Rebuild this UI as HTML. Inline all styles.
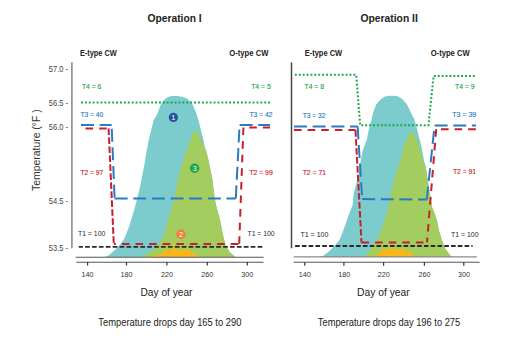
<!DOCTYPE html>
<html><head><meta charset="utf-8"><style>
html,body{margin:0;padding:0;background:#fff;width:531px;height:343px;overflow:hidden}
svg{display:block}
text{font-family:"Liberation Sans",sans-serif}
.s{stroke-width:0.25px}
</style></head><body>
<svg width="531" height="343" viewBox="0 0 531 343">
<polygon fill="#7ccbcd" points="104,257 106.5,256.6 108.5,255.4 116,249 120.5,244 124.5,238.3 128.8,227.6 132,217 135.2,206.3 138,195 140.5,185 142.3,175 144.5,164 146.5,152 148.6,140.4 150.8,131.7 153.7,120 157.2,114.2 160.4,105.5 162.5,102 165,99 168,97 172,95.9 177,95.9 182,96.8 187,98.5 190.8,102 193.1,105.5 196.6,114.2 199.2,123 201.3,131.7 203.6,140.5 205,148 206.9,153.7 209,162.5 212.5,180 214.6,197.5 216,205 219.5,217.5 223,235 225.6,245.5 230,252.5 234.3,256 235,257"/>
<polygon fill="#a3cd5f" points="141.8,257 153.1,250 159.9,242.5 164,235 168.7,217.5 174,200 177.5,180 182.4,162.5 186.6,150 189.6,142.5 192.5,134 195.4,129.4 198.5,134 202.4,142.5 206.2,151 209,162.5 212.5,180 214.6,197.5 216,205 219.5,217.5 223,235 225.6,245.5 230,252.5 234.3,256 235,257"/>
<polygon fill="#fbb617" points="148,257 156,255.5 161.6,253.8 165,251.5 166.9,246.5 168.5,251 172,250.5 173.7,240.5 175.5,250 179,250 180.6,247.5 182.5,250.5 186,250 187.4,246 189,251 193,253 198.5,256 201,257"/>
<line x1="71.9" y1="62.3" x2="71.9" y2="248.3" stroke="#8a8a8a" stroke-width="1.6"/>
<line x1="75.7" y1="257.3" x2="263.6" y2="257.3" stroke="#555" stroke-width="1.1"/>
<line x1="76.5" y1="262.3" x2="263.6" y2="262.3" stroke="#555" stroke-width="1.1"/>
<g stroke="#333" stroke-width="1.2"><line x1="87.6" y1="262" x2="87.6" y2="265.5"/><line x1="126.5" y1="262" x2="126.5" y2="265.5"/><line x1="166.9" y1="262" x2="166.9" y2="265.5"/><line x1="207.3" y1="262" x2="207.3" y2="265.5"/><line x1="247.3" y1="262" x2="247.3" y2="265.5"/></g>
<line x1="81" y1="102.6" x2="270" y2="102.6" stroke="#17a84a" stroke-width="2" stroke-dasharray="1.9,2"/>
<polyline fill="none" stroke="#2a7bc4" stroke-width="2" stroke-dasharray="13,5.65" stroke-dashoffset="0" points="81,125.1 111.6,125.1"/>
<polyline fill="none" stroke="#2a7bc4" stroke-width="2" stroke-dasharray="13,5.65" stroke-dashoffset="15.05" points="111.6,125.1 114.6,198.4"/>
<polyline fill="none" stroke="#2a7bc4" stroke-width="2" stroke-dasharray="13,5.65" stroke-dashoffset="0" points="114.6,198.4 235.8,198.4"/>
<polyline fill="none" stroke="#2a7bc4" stroke-width="2" stroke-dasharray="13,5.65" stroke-dashoffset="0" points="235.8,198.4 239.6,124.9"/>
<polyline fill="none" stroke="#2a7bc4" stroke-width="2" stroke-dasharray="13,5.65" stroke-dashoffset="0" points="239.6,124.9 270,124.9"/>
<polyline fill="none" stroke="#c81f2d" stroke-width="2" stroke-dasharray="7.6,6" stroke-dashoffset="0" points="85.5,128.4 108.6,128.4"/>
<polyline fill="none" stroke="#c81f2d" stroke-width="2" stroke-dasharray="6.6,2.4" stroke-dashoffset="0" points="108.6,128.4 113.8,244.1"/>
<polyline fill="none" stroke="#c81f2d" stroke-width="2" stroke-dasharray="7.6,6" stroke-dashoffset="5.5" points="113.8,244.1 239.2,244.1"/>
<polyline fill="none" stroke="#c81f2d" stroke-width="2" stroke-dasharray="7.6,6" stroke-dashoffset="0" points="243.4,127.5 239.2,244.1"/>
<polyline fill="none" stroke="#c81f2d" stroke-width="2" stroke-dasharray="7.6,6" stroke-dashoffset="7.8" points="243.4,127.5 270,127.5"/>
<line x1="78.8" y1="246.9" x2="263.6" y2="246.9" stroke="#2a2a2a" stroke-width="1.9" stroke-dasharray="4.7,2.2" stroke-dashoffset="0.6"/>
<circle cx="173.4" cy="117.4" r="4.6" fill="#2b4f9c"/><text x="173.4" y="120.2" font-size="7.4" fill="#fff" text-anchor="middle">1</text>
<circle cx="194.6" cy="168.3" r="4.7" fill="#1aa84c"/><text x="194.8" y="170.9" font-size="7.4" fill="#fff" text-anchor="middle">3</text>
<circle cx="181" cy="234.2" r="4.7" fill="#f07f3b"/><text x="181" y="236.9" font-size="7.4" fill="#fff" text-anchor="middle">2</text>
<text x="147.5" y="22.3" font-size="10.2" fill="#222" font-weight="bold" textLength="54.2" lengthAdjust="spacingAndGlyphs">Operation I</text>
<text x="79.9" y="55.6" font-size="8.6" fill="#222" font-weight="bold" textLength="36.8" lengthAdjust="spacingAndGlyphs">E-type CW</text>
<text x="229.3" y="55.6" font-size="8.6" fill="#222" font-weight="bold" textLength="39.1" lengthAdjust="spacingAndGlyphs">O-type CW</text>
<g><text x="48.8" y="72.4" font-size="8.2" fill="#444" textLength="19.2" lengthAdjust="spacingAndGlyphs">57.0 -</text>
<text x="48.8" y="106" font-size="8.2" fill="#444" textLength="19.2" lengthAdjust="spacingAndGlyphs">56.5 -</text>
<text x="48.8" y="130" font-size="8.2" fill="#444" textLength="19.2" lengthAdjust="spacingAndGlyphs">56.0 -</text>
<text x="48.8" y="203.5" font-size="8.2" fill="#444" textLength="19.2" lengthAdjust="spacingAndGlyphs">54.5 -</text>
<text x="48.8" y="251.1" font-size="8.2" fill="#444" textLength="19.2" lengthAdjust="spacingAndGlyphs">53.5 -</text>
</g>
<text transform="translate(40.2,191.0) rotate(-90)" x="0" y="0" font-size="10.8" fill="#333" textLength="81.7" lengthAdjust="spacingAndGlyphs">Temperature (°F )</text>
<text x="81.9" y="89.1" font-size="7.8" fill="#17a84a" textLength="19.4" lengthAdjust="spacingAndGlyphs" stroke="#17a84a" stroke-width="0.15">T4 = 6</text>
<text x="251.2" y="89.1" font-size="7.8" fill="#17a84a" textLength="19.5" lengthAdjust="spacingAndGlyphs" stroke="#17a84a" stroke-width="0.15">T4 = 5</text>
<text x="80.5" y="117.2" font-size="7.8" fill="#2a7bc4" textLength="22.8" lengthAdjust="spacingAndGlyphs" stroke="#2a7bc4" stroke-width="0.15">T3 = 40</text>
<text x="249.4" y="117.2" font-size="7.8" fill="#2a7bc4" textLength="23.0" lengthAdjust="spacingAndGlyphs" stroke="#2a7bc4" stroke-width="0.15">T3 = 42</text>
<text x="80.5" y="175.3" font-size="7.8" fill="#c81f2d" textLength="22.8" lengthAdjust="spacingAndGlyphs" stroke="#c81f2d" stroke-width="0.15">T2 = 97</text>
<text x="249.4" y="175.3" font-size="7.8" fill="#c81f2d" textLength="23.3" lengthAdjust="spacingAndGlyphs" stroke="#c81f2d" stroke-width="0.15">T2 = 99</text>
<text x="78.0" y="236.3" font-size="7.8" fill="#2a2a2a" textLength="27.3" lengthAdjust="spacingAndGlyphs">T1 = 100</text>
<text x="247.5" y="236.3" font-size="7.8" fill="#2a2a2a" textLength="27.1" lengthAdjust="spacingAndGlyphs">T1 = 100</text>
<g text-anchor="middle"><text x="87.6" y="277.1" font-size="7.2" fill="#333">140</text>
<text x="126.5" y="277.1" font-size="7.2" fill="#333">180</text>
<text x="166.9" y="277.1" font-size="7.2" fill="#333">220</text>
<text x="207.3" y="277.1" font-size="7.2" fill="#333">260</text>
<text x="247.3" y="277.1" font-size="7.2" fill="#333">300</text>
</g>
<text x="140.5" y="295.8" font-size="11.2" fill="#222" textLength="52" lengthAdjust="spacingAndGlyphs">Day of year</text>
<text x="98.3" y="325.6" font-size="10.6" fill="#222" textLength="143.1" lengthAdjust="spacingAndGlyphs">Temperature drops day 165 to 290</text>
<polygon fill="#7ccbcd" points="320,257 322.9,256 328.1,252.2 333.4,247 339.5,240 343,231.2 346.1,222.5 349.1,213.7 352.6,205 353.6,193.7 355.9,185 358,176.2 359.7,167.5 361.1,158.7 362.8,150 366.8,140 367.9,133.7 369.7,126.4 371.6,119.2 373.3,111.9 376.2,104.6 378.4,101.7 381.3,98.7 385,96.5 389.4,95.8 393,95.8 397.5,96.2 401.9,98.7 404.5,101.5 407,104.6 410.6,111.9 414.3,119.2 416.4,126.4 418.2,133.7 419.7,140 421.2,145 423.9,160 425.8,167.5 428.5,185 432,207 434.8,213.8 437.4,222.5 439.2,231.3 441.8,240 445.3,248.8 450.5,255.8 452,257"/>
<polygon fill="#a3cd5f" points="357,257 366,255.5 368.5,252 372.3,246.5 376.5,240 379.7,235 384,222.5 388.3,207 392.6,185 397.9,167.5 401.1,160 402.2,152 404.6,143.7 408,136 411.4,130.6 415,136 418.6,143.7 423,160 425.8,167.5 428.5,185 432,207 434.8,213.8 437.4,222.5 439.2,231.3 441.8,240 445.3,248.8 450.5,255.8 452,257"/>
<polygon fill="#fbb617" points="371,257 373.4,256 379.7,252.9 382,251 383.4,247.1 385,250.5 388,250 389.7,242.3 391.5,250 395,249.5 396.6,246.5 398.5,250 399.5,249.5 400.8,247.6 402.5,250 404,248.7 406,251 411,253.5 415.6,256 418,257"/>
<line x1="291.5" y1="62.5" x2="291.5" y2="248.3" stroke="#444" stroke-width="1.5"/>
<line x1="293.7" y1="256.9" x2="476.7" y2="256.9" stroke="#888" stroke-width="1.2"/>
<line x1="293.7" y1="262.3" x2="479.5" y2="262.3" stroke="#555" stroke-width="1.1"/>
<g stroke="#333" stroke-width="1.2"><line x1="304.8" y1="262.2" x2="304.8" y2="265.8"/><line x1="343.9" y1="262.2" x2="343.9" y2="265.8"/><line x1="383.6" y1="262.2" x2="383.6" y2="265.8"/><line x1="424.4" y1="262.2" x2="424.4" y2="265.8"/><line x1="463.8" y1="262.2" x2="463.8" y2="265.8"/></g>
<polyline fill="none" stroke="#17a84a" stroke-width="2" stroke-dasharray="1.9,2" points="294.9,74.8 356.2,74.8 360.2,125.3 428.4,125.3 433.6,75.9 475,75.9"/>
<polyline fill="none" stroke="#2a7bc4" stroke-width="2" stroke-dasharray="13,5.65" stroke-dashoffset="0" points="294,126.4 357.6,126.4"/>
<polyline fill="none" stroke="#2a7bc4" stroke-width="2" stroke-dasharray="13,5.65" stroke-dashoffset="0" points="357.6,126.4 362.2,199.1"/>
<polyline fill="none" stroke="#2a7bc4" stroke-width="2" stroke-dasharray="13,5.65" stroke-dashoffset="0" points="362.2,199.1 426.8,199.5"/>
<polyline fill="none" stroke="#2a7bc4" stroke-width="2" stroke-dasharray="13,5.65" stroke-dashoffset="0" points="426.8,199.5 434.6,125.4"/>
<polyline fill="none" stroke="#2a7bc4" stroke-width="2" stroke-dasharray="13,5.65" stroke-dashoffset="0" points="434.6,125.4 476,125.4"/>
<polyline fill="none" stroke="#c81f2d" stroke-width="2" stroke-dasharray="7.6,6" stroke-dashoffset="0" points="294,130.1 355.5,130.1"/>
<polyline fill="none" stroke="#c81f2d" stroke-width="2" stroke-dasharray="6.6,2.4" stroke-dashoffset="0" points="355.5,130.1 361.5,242.4"/>
<polyline fill="none" stroke="#c81f2d" stroke-width="2" stroke-dasharray="7.6,6" stroke-dashoffset="0" points="361.5,242.4 427,242.4"/>
<polyline fill="none" stroke="#c81f2d" stroke-width="2" stroke-dasharray="7.6,6" stroke-dashoffset="0" points="436.2,129.2 427,242.4"/>
<polyline fill="none" stroke="#c81f2d" stroke-width="2" stroke-dasharray="7.6,6" stroke-dashoffset="8.8" points="436.2,129.2 476,129.2"/>
<line x1="295.1" y1="246" x2="472.6" y2="246" stroke="#2a2a2a" stroke-width="1.9" stroke-dasharray="4.6,2.18" stroke-dashoffset="0"/>
<text x="360.5" y="22.3" font-size="10.2" fill="#222" font-weight="bold" textLength="57.3" lengthAdjust="spacingAndGlyphs">Operation II</text>
<text x="304.7" y="55.6" font-size="8.6" fill="#222" font-weight="bold" textLength="37.5" lengthAdjust="spacingAndGlyphs">E-type CW</text>
<text x="430.7" y="55.6" font-size="8.6" fill="#222" font-weight="bold" textLength="39" lengthAdjust="spacingAndGlyphs">O-type CW</text>
<text x="304.5" y="89.4" font-size="7.8" fill="#17a84a" textLength="19.5" lengthAdjust="spacingAndGlyphs" stroke="#17a84a" stroke-width="0.15">T4 = 8</text>
<text x="455.0" y="89.4" font-size="7.8" fill="#17a84a" textLength="19.5" lengthAdjust="spacingAndGlyphs" stroke="#17a84a" stroke-width="0.15">T4 = 9</text>
<text x="302.8" y="117.5" font-size="7.8" fill="#2a7bc4" textLength="22.6" lengthAdjust="spacingAndGlyphs" stroke="#2a7bc4" stroke-width="0.15">T3 = 32</text>
<text x="452.2" y="117.4" font-size="7.8" fill="#2a7bc4" textLength="24.1" lengthAdjust="spacingAndGlyphs" stroke="#2a7bc4" stroke-width="0.15">T3 = 39</text>
<text x="302.7" y="174.7" font-size="7.8" fill="#c81f2d" textLength="23.4" lengthAdjust="spacingAndGlyphs" stroke="#c81f2d" stroke-width="0.15">T2 = 71</text>
<text x="452.9" y="174.3" font-size="7.8" fill="#c81f2d" textLength="23.2" lengthAdjust="spacingAndGlyphs" stroke="#c81f2d" stroke-width="0.15">T2 = 91</text>
<text x="300.4" y="236.9" font-size="7.8" fill="#2a2a2a" textLength="28.0" lengthAdjust="spacingAndGlyphs">T1 = 100</text>
<text x="451.0" y="237.1" font-size="7.8" fill="#2a2a2a" textLength="27.6" lengthAdjust="spacingAndGlyphs">T1 = 100</text>
<g text-anchor="middle"><text x="304.8" y="277.1" font-size="7.2" fill="#333">140</text>
<text x="344.3" y="277.1" font-size="7.2" fill="#333">180</text>
<text x="383.8" y="277.1" font-size="7.2" fill="#333">220</text>
<text x="424.5" y="277.1" font-size="7.2" fill="#333">260</text>
<text x="463.9" y="277.1" font-size="7.2" fill="#333">300</text>
</g>
<text x="357" y="295.8" font-size="11.2" fill="#222" textLength="52.8" lengthAdjust="spacingAndGlyphs">Day of year</text>
<text x="317.8" y="325.6" font-size="10.6" fill="#222" textLength="142.4" lengthAdjust="spacingAndGlyphs">Temperature drops day 196 to 275</text>
</svg>
</body></html>
